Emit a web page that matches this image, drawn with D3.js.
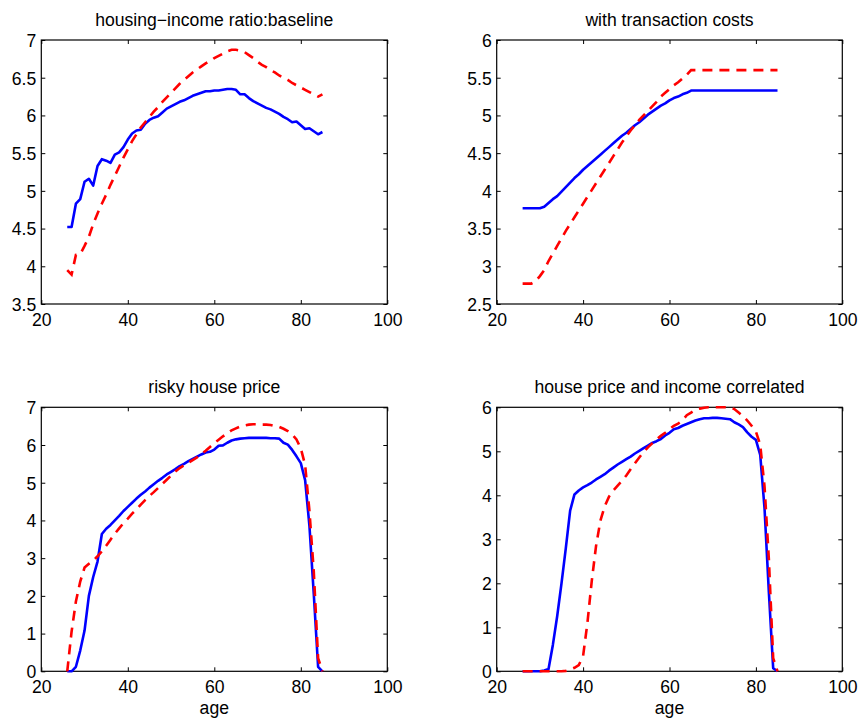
<!DOCTYPE html>
<html>
<head>
<meta charset="utf-8">
<script src="https://cdn.jsdelivr.net/npm/d3@7"></script>
<style>
  body { margin: 0; background: #fff; }
  svg { display: block; }
  text { font-family: Arial, "Liberation Sans", Helvetica, sans-serif; fill: #000; }
</style>
</head>
<body>
<svg id="chart" width="861" height="724"></svg>
<script>
var ages = [26, 27, 28, 29, 30, 31, 32, 33, 34, 35,
  36, 37, 38, 39, 40, 41, 42, 43, 44, 45,
  46, 47, 48, 49, 50, 51, 52, 53, 54, 55,
  56, 57, 58, 59, 60, 61, 62, 63, 64, 65,
  66, 67, 68, 69, 70, 71, 72, 73, 74, 75,
  76, 77, 78, 79, 80, 81, 82, 83, 84, 85];

var xTicks = [20, 40, 60, 80, 100];

// baseline
var baseSolid = [4.52, 4.52, 4.83, 4.89, 5.12, 5.16, 5.07, 5.33, 5.42, 5.40,
  5.37, 5.48, 5.51, 5.58, 5.68, 5.76, 5.80, 5.81, 5.89, 5.94,
  5.97, 5.99, 6.04, 6.09, 6.12, 6.15, 6.18, 6.20, 6.23, 6.26,
  6.28, 6.30, 6.32, 6.32, 6.33, 6.33, 6.34, 6.35, 6.35, 6.34,
  6.28, 6.28, 6.23, 6.19, 6.16, 6.13, 6.10, 6.08, 6.05, 6.02,
  5.98, 5.95, 5.91, 5.92, 5.87, 5.82, 5.83, 5.79, 5.75, 5.78];
var baseDash = [3.95, 3.89, 4.15, 4.16, 4.27, 4.39, 4.56, 4.70, 4.83, 4.95,
  5.08, 5.20, 5.32, 5.44, 5.55, 5.66, 5.75, 5.84, 5.91, 5.98,
  6.05, 6.11, 6.18, 6.24, 6.30, 6.36, 6.42, 6.47, 6.52, 6.57,
  6.61, 6.65, 6.69, 6.72, 6.76, 6.79, 6.82, 6.85, 6.87, 6.87,
  6.86, 6.84, 6.80, 6.76, 6.71, 6.67, 6.64, 6.60, 6.57, 6.53,
  6.50, 6.47, 6.43, 6.40, 6.37, 6.34, 6.31, 6.28, 6.25, 6.28];
var baseTicks = [3.5, 4, 4.5, 5, 5.5, 6, 6.5, 7];

// transaction costs
var tcSolid = [3.77, 3.77, 3.77, 3.77, 3.77, 3.79, 3.84, 3.89, 3.93, 3.99,
  4.05, 4.11, 4.17, 4.22, 4.28, 4.33, 4.38, 4.43, 4.48, 4.53,
  4.58, 4.63, 4.68, 4.73, 4.77, 4.82, 4.87, 4.91, 4.96, 5.01,
  5.05, 5.09, 5.13, 5.16, 5.20, 5.23, 5.25, 5.28, 5.30, 5.33,
  5.33, 5.33, 5.33, 5.33, 5.33, 5.33, 5.33, 5.33, 5.33, 5.33,
  5.33, 5.33, 5.33, 5.33, 5.33, 5.33, 5.33, 5.33, 5.33, 5.33];
var tcDash = [2.77, 2.77, 2.77, 2.80, 2.87, 2.95, 3.07, 3.17, 3.27, 3.37,
  3.47, 3.56, 3.65, 3.74, 3.83, 3.92, 4.01, 4.10, 4.19, 4.28,
  4.37, 4.46, 4.55, 4.64, 4.72, 4.80, 4.87, 4.94, 5.00, 5.06,
  5.12, 5.18, 5.25, 5.30, 5.35, 5.40, 5.44, 5.49, 5.54, 5.60,
  5.60, 5.60, 5.60, 5.60, 5.60, 5.60, 5.60, 5.60, 5.60, 5.60,
  5.60, 5.60, 5.60, 5.60, 5.60, 5.60, 5.60, 5.60, 5.60, 5.60];
var tcTicks = [2.5, 3, 3.5, 4, 4.5, 5, 5.5, 6];

// risky house price
var riskySolid = [0.00, 0.00, 0.12, 0.55, 1.08, 2.00, 2.50, 2.91, 3.64, 3.78,
  3.88, 4.00, 4.12, 4.25, 4.36, 4.47, 4.58, 4.68, 4.77, 4.87,
  4.96, 5.05, 5.13, 5.22, 5.29, 5.36, 5.44, 5.50, 5.57, 5.63,
  5.69, 5.75, 5.80, 5.82, 5.88, 5.98, 5.99, 6.06, 6.12, 6.15,
  6.17, 6.18, 6.19, 6.19, 6.19, 6.19, 6.19, 6.18, 6.18, 6.17,
  6.06, 6.01, 5.87, 5.70, 5.52, 5.07, 3.85, 2.05, 0.12, 0.00];
var riskyDash = [0.00, 1.05, 1.85, 2.38, 2.75, 2.85, 2.93, 3.05, 3.18, 3.33,
  3.49, 3.65, 3.79, 3.93, 4.05, 4.18, 4.29, 4.42, 4.54, 4.65,
  4.75, 4.86, 4.97, 5.08, 5.19, 5.30, 5.39, 5.46, 5.53, 5.60,
  5.67, 5.76, 5.85, 5.95, 6.05, 6.14, 6.23, 6.31, 6.39, 6.44,
  6.49, 6.52, 6.54, 6.55, 6.55, 6.54, 6.54, 6.53, 6.50, 6.48,
  6.43, 6.37, 6.28, 6.15, 5.91, 5.47, 4.25, 2.65, 0.35, 0.00];
var riskyTicks = [0, 1, 2, 3, 4, 5, 6, 7];

// correlated
var corrSolid = [0.00, 0.00, 0.00, 0.00, 0.00, 0.02, 0.05, 0.60, 1.25, 2.00,
  2.80, 3.65, 4.02, 4.11, 4.18, 4.23, 4.29, 4.36, 4.42, 4.48,
  4.56, 4.63, 4.70, 4.76, 4.82, 4.88, 4.95, 5.01, 5.07, 5.13,
  5.19, 5.23, 5.28, 5.36, 5.42, 5.50, 5.53, 5.58, 5.62, 5.66,
  5.70, 5.73, 5.75, 5.75, 5.76, 5.76, 5.75, 5.74, 5.73, 5.66,
  5.61, 5.55, 5.43, 5.33, 5.26, 4.92, 3.70, 1.80, 0.07, 0.00];
var corrDash = [0.00, 0.00, 0.00, 0.00, 0.00, 0.00, 0.00, 0.00, 0.00, 0.00,
  0.01, 0.04, 0.08, 0.14, 0.35, 1.10, 2.05, 2.85, 3.42, 3.75,
  3.97, 4.11, 4.22, 4.33, 4.45, 4.59, 4.73, 4.86, 4.98, 5.09,
  5.18, 5.27, 5.35, 5.42, 5.50, 5.58, 5.63, 5.70, 5.82, 5.88,
  5.94, 5.97, 5.99, 6.00, 6.00, 6.00, 6.00, 6.00, 6.00, 5.96,
  5.88, 5.80, 5.70, 5.58, 5.45, 5.15, 4.20, 2.55, 0.30, 0.00];
var corrTicks = [0, 1, 2, 3, 4, 5, 6];

var titles = ["housing\u2212income ratio:baseline", "with transaction costs",
  "risky house price", "house price and income correlated"];

var svg = d3.select('#chart');
var fmt = d3.format('~g');

var drawPanel = function(opt) {
  var x = d3.scaleLinear().domain([20, 100]).range([opt.left, opt.right]);
  var y = d3.scaleLinear().domain([opt.yTicks[0], opt.yTicks[opt.yTicks.length - 1]])
    .range([opt.bottom, opt.top]);
  var g = svg.append('g');
  var tl = 4;

  // inward ticks, MATLAB style, on all four sides
  var xAxis = d3.axisBottom(x).tickValues(xTicks).tickFormat(fmt)
    .tickSizeInner(-tl).tickSizeOuter(0);
  var ax = g.append('g').attr('transform', 'translate(0,' + opt.bottom + ')').call(xAxis);
  g.append('g').attr('transform', 'translate(0,' + opt.top + ')')
    .call(d3.axisTop(x).tickValues(xTicks).tickSizeInner(-tl).tickSizeOuter(0).tickFormat(''));

  var yAxis = d3.axisLeft(y).tickValues(opt.yTicks).tickFormat(fmt)
    .tickSizeInner(-tl).tickSizeOuter(0);
  var ay = g.append('g').attr('transform', 'translate(' + opt.left + ',0)').call(yAxis);
  g.append('g').attr('transform', 'translate(' + opt.right + ',0)')
    .call(d3.axisRight(y).tickValues(opt.yTicks).tickSizeInner(-tl).tickSizeOuter(0).tickFormat(''));

  g.selectAll('.domain').remove();
  g.selectAll('.tick line').attr('stroke', '#000').attr('stroke-width', 1);
  ax.selectAll('text').attr('font-size', '17.6px').attr('y', 9).attr('dy', '0.72em');
  ay.selectAll('text').attr('font-size', '17.6px').attr('x', -5).attr('dy', '0.36em');

  g.append('rect')
    .attr('x', opt.left).attr('y', opt.top)
    .attr('width', opt.right - opt.left).attr('height', opt.bottom - opt.top)
    .attr('fill', 'none').attr('stroke', '#000').attr('stroke-width', 1.2);

  var line = d3.line()
    .x(function(d, i) { return x(ages[i]); })
    .y(function(d) { return y(d); });

  g.append('path').datum(opt.solid)
    .attr('d', line)
    .attr('fill', 'none').attr('stroke', '#0000ff').attr('stroke-width', 2.6)
    .attr('stroke-linejoin', 'round');
  g.append('path').datum(opt.dash)
    .attr('d', line)
    .attr('fill', 'none').attr('stroke', '#ff0000').attr('stroke-width', 2.6)
    .attr('stroke-dasharray', '10,7');

  g.append('text')
    .attr('x', (opt.left + opt.right) / 2).attr('y', opt.top - 14)
    .attr('text-anchor', 'middle').attr('font-size', '17.6px')
    .text(opt.title);

  if (opt.xlabel) {
    g.append('text')
      .attr('x', (opt.left + opt.right) / 2).attr('y', opt.bottom + 43)
      .attr('text-anchor', 'middle').attr('font-size', '17.6px')
      .text(opt.xlabel);
  }
};

drawPanel({left: 41.3, right: 387.3, top: 40, bottom: 304, yTicks: baseTicks,
  solid: baseSolid, dash: baseDash, title: titles[0]});
drawPanel({left: 496.7, right: 842.3, top: 40, bottom: 304, yTicks: tcTicks,
  solid: tcSolid, dash: tcDash, title: titles[1]});
drawPanel({left: 41.3, right: 387.3, top: 407.3, bottom: 671.3, yTicks: riskyTicks,
  solid: riskySolid, dash: riskyDash, title: titles[2], xlabel: 'age'});
drawPanel({left: 496.7, right: 842.3, top: 407.3, bottom: 671.3, yTicks: corrTicks,
  solid: corrSolid, dash: corrDash, title: titles[3], xlabel: 'age'});
</script>
</body>
</html>
